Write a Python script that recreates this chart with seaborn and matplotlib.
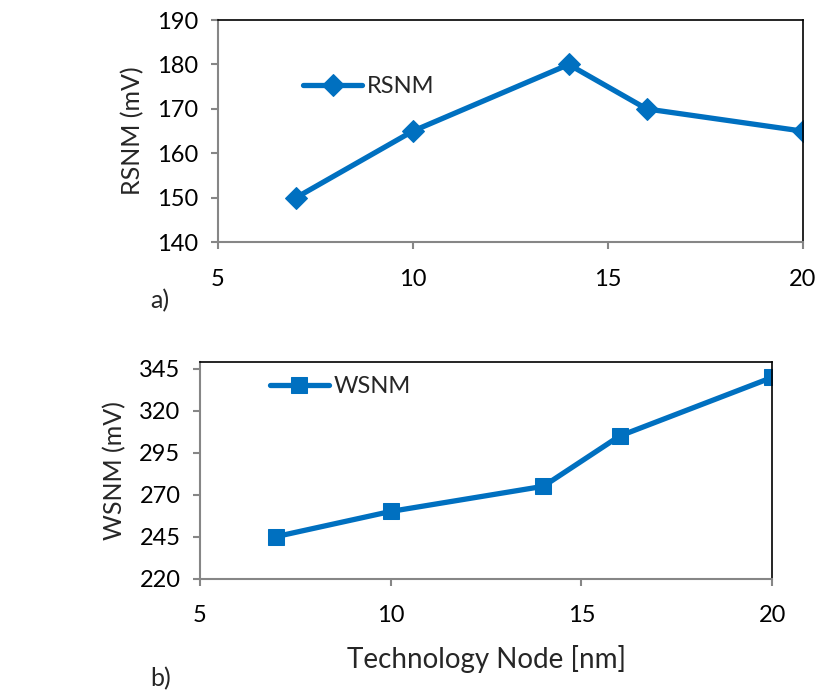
import matplotlib
matplotlib.use("Agg")
import matplotlib.pyplot as plt
import pandas as pd
import seaborn as sns

# data
node_nm = [7, 10, 14, 16, 20]
rsnm_mv = [150, 165, 180, 170, 165]
wsnm_mv = [245, 260, 275, 305, 340]

rsnm_ticks = [140, 150, 160, 170, 180, 190]
wsnm_ticks = [220, 245, 270, 295, 320, 345]
x_ticks = [5, 10, 15, 20]

BLUE = "#0070C0"
GREY = "#868686"

sns.set_style("white")
plt.rcParams['font.family'] = ['Lato', 'DejaVu Sans']

df = pd.DataFrame({"node": node_nm, "RSNM": rsnm_mv, "WSNM": wsnm_mv})

fig = plt.figure(figsize=(8.19, 6.92), dpi=100)
ax1 = fig.add_axes([0.266, 0.650, 0.714, 0.321])
ax2 = fig.add_axes([0.244, 0.164, 0.699, 0.313])


def style_axes(ax):
    for side in ["top", "right"]:
        ax.spines[side].set_color("black")
        ax.spines[side].set_linewidth(1.2)
    for side in ["left", "bottom"]:
        ax.spines[side].set_color(GREY)
        ax.spines[side].set_linewidth(1.5)
    ax.tick_params(axis="both", direction="out", length=5, width=1.5,
                   color=GREY, labelsize=17, labelcolor="black")
    ax.tick_params(axis="y", pad=9)
    ax.tick_params(axis="x", pad=14)
    ax.tick_params(axis="both", which="both", bottom=True, left=True)


sns.lineplot(data=df, x="node", y="RSNM", ax=ax1, color=BLUE, lw=3.8,
             marker="D", markersize=11, markeredgecolor=BLUE, label="RSNM")
ax1.set_xlim(5, 20)
ax1.set_ylim(140, 190)
ax1.set_xticks(x_ticks)
ax1.set_yticks(rsnm_ticks)
ax1.set_xlabel("")
ax1.set_ylabel("RSNM (mV)", fontsize=18, labelpad=9)
style_axes(ax1)
ax1.legend(loc="center left", bbox_to_anchor=(0.11, 0.70), frameon=False,
           fontsize=17, handlelength=2.5, handletextpad=0.2)

sns.lineplot(data=df, x="node", y="WSNM", ax=ax2, color=BLUE, lw=3.8,
             marker="s", markersize=12, markeredgecolor=BLUE, label="WSNM")
ax2.set_xlim(5, 20)
ax2.set_ylim(220, 349.2)
ax2.set_xticks(x_ticks)
ax2.set_yticks(wsnm_ticks)
ax2.set_xlabel("Technology Node [nm]", fontsize=20, labelpad=14)
ax2.set_ylabel("WSNM (mV)", fontsize=18, labelpad=9)
style_axes(ax2)
ax2.legend(loc="center left", bbox_to_anchor=(0.085, 0.886), frameon=False,
           fontsize=17, handlelength=2.5, handletextpad=0.2)

fig.text(0.183, 0.565, "a)", fontsize=18, ha="left", va="center")
fig.text(0.183, 0.020, "b)", fontsize=18, ha="left", va="center")

fig.savefig("out.png", dpi=100)
